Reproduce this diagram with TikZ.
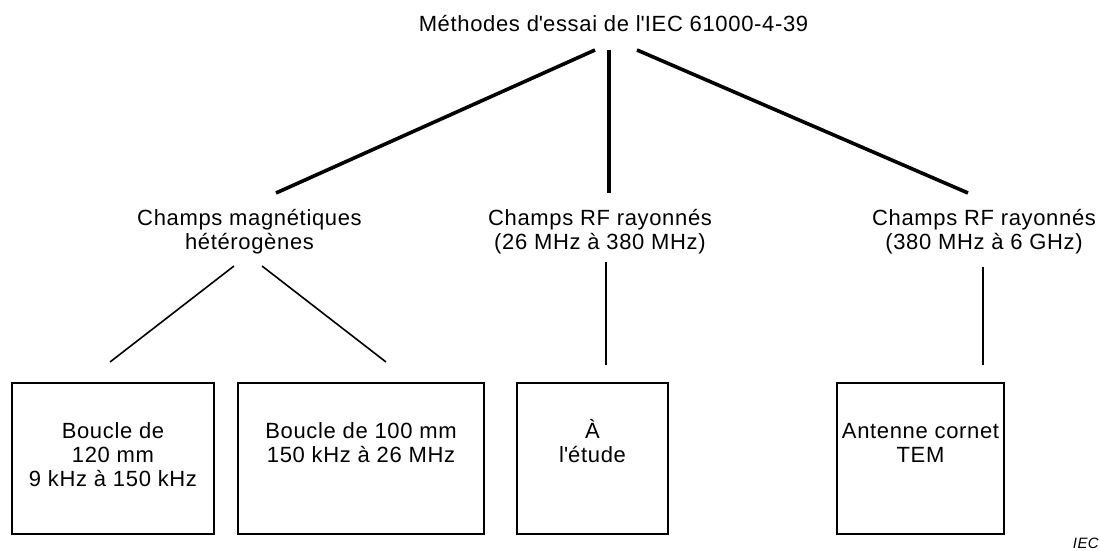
\documentclass[tikz,border=0pt]{standalone}
\usepackage{fontspec}
\setmainfont{Liberation Sans}[LetterSpace=3]
\newcommand{\mlines}[1]{\begin{tabular}[t]{@{}c@{}}#1\end{tabular}}
\newcommand{\sq}{\textquotesingle}
\tikzset{
  lbl/.style={anchor=base, inner sep=0pt, font=\fontsize{22}{24}\selectfont},
  thickline/.style={line width=3.6pt},
  thinline/.style={line width=1.6pt},
  boxnode/.style={draw, line width=2pt, inner sep=0pt},
}
\begin{document}
\begin{tikzpicture}[x=1pt,y=-1pt]
\useasboundingbox (0,0) rectangle (1100,551);
% top
\node[lbl] (title) at (613.5,32) {Méthodes d\sq essai de l\sq IEC 61000-4-39};
% level 2
\node[lbl] (mag) at (249.5,225) {\mlines{Champs magnétiques\\hétérogènes}};
\node[lbl] (rf1) at (600,225) {\mlines{Champs RF rayonnés\\(26 MHz à 380 MHz)}};
\node[lbl] (rf2) at (984,225) {\mlines{Champs RF rayonnés\\(380 MHz à 6 GHz)}};
% boxes
\node[boxnode, minimum width=202pt, minimum height=151pt] (b1) at (113,458.5) {};
\node[boxnode, minimum width=246pt, minimum height=151pt] (b2) at (361,458.5) {};
\node[boxnode, minimum width=151pt, minimum height=151pt] (b3) at (592.5,458.5) {};
\node[boxnode, minimum width=167pt, minimum height=151pt] (b4) at (920.5,458.5) {};
\node[lbl] (t1) at (113,438) {\mlines{Boucle de\\120 mm\\9 kHz à 150 kHz}};
\node[lbl] (t2) at (361,438) {\mlines{Boucle de 100 mm\\150 kHz à 26 MHz}};
\node[lbl] (t3) at (592.5,438) {\mlines{À\\l\sq étude}};
\node[lbl] (t4) at (920.5,438) {\mlines{Antenne cornet\\TEM}};
% connector ends
\coordinate (title-l) at (595,50);
\coordinate (title-m) at (609,50);
\coordinate (title-r) at (637,50);
\coordinate (mag-top) at (276,193);
\coordinate (rf1-top) at (609,193);
\coordinate (rf2-top) at (968,193);
\coordinate (mag-bl) at (234,266);
\coordinate (mag-br) at (262,266);
\coordinate (rf1-bot) at (606,262);
\coordinate (rf2-bot) at (983,267);
\coordinate (b1-top) at (110,362);
\coordinate (b2-top) at (386,362);
\coordinate (b3-top) at (606,365);
\coordinate (b4-top) at (983,365);
\draw[thickline] (title-l) -- (mag-top);
\draw[thickline] (title-m) -- (rf1-top);
\draw[thickline] (title-r) -- (rf2-top);
\draw[thinline] (mag-bl) -- (b1-top);
\draw[thinline] (mag-br) -- (b2-top);
\draw[thinline] (rf1-bot) -- (b3-top);
\draw[thinline] (rf2-bot) -- (b4-top);
\node[anchor=base east, inner sep=0pt, font=\fontsize{15}{17}\selectfont\itshape] (iec) at (1099,548) {IEC};
\end{tikzpicture}
\end{document}
